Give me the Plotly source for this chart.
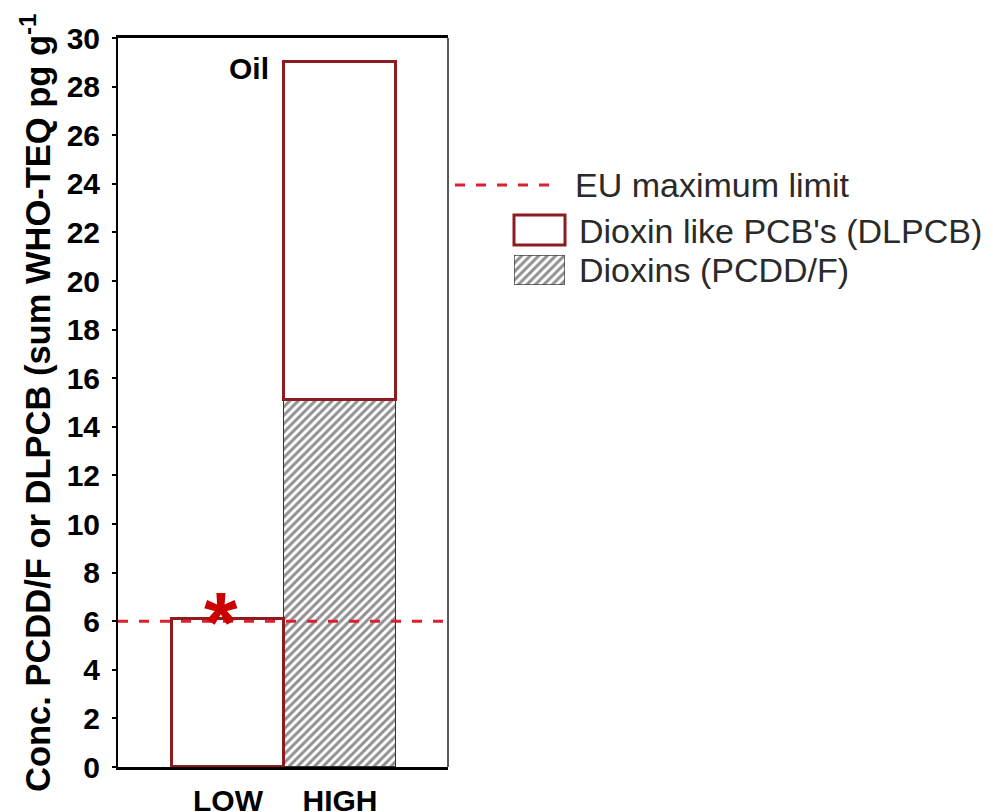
import plotly.graph_objects as go

# ---- data ----
categories = ["LOW", "HIGH"]
dioxins = [None, 15.1]          # PCDD/F (hatched)
dlpcb = [6.1, 13.9]             # dioxin-like PCBs (stacked on top)
eu_limit = 6.0
y_ticks = list(range(0, 31, 2))
legend_labels = ["EU maximum limit", "Dioxin like PCB's (DLPCB)", "Dioxins (PCDD/F)"]
y_title = "Conc. PCDD/F or DLPCB (sum WHO-TEQ pg g<sup>-1</sup>"

# ---- layout helpers (page pixel -> paper); page has an 8px body offset ----
OFF = 8
W, H = 993 - OFF, 812 - OFF
ML, MR, MT = 118 - OFF, 8, 38 - OFF
MB = H - (767 - OFF)
PW, PH = W - ML - MR, H - MT - MB
def xp(px): return (px - OFF - ML) / PW
def yp(py): return (H - MB - (py - OFF)) / PH

RED_EDGE = "#8E1B1E"
RED_DASH = "#DD1F2E"
FONT = "Liberation Sans, Arial, sans-serif"
HATCH = dict(shape="/", fgcolor="#222222", bgcolor="white", size=6, solidity=0.5)

fig = go.Figure()
fig.add_trace(go.Bar(
    x=categories, y=dioxins, name=legend_labels[2], showlegend=False,
    marker=dict(color="white", line=dict(color="#333333", width=1.5), pattern=HATCH),
))
fig.add_trace(go.Bar(
    x=categories, y=dlpcb, name=legend_labels[1], showlegend=False,
    marker=dict(color="white", line=dict(color=RED_EDGE, width=3)),
))

# legend swatch for the hatched series (drawn on its own small axes)
fig.add_trace(go.Scatter(
    x=[0, 1, 1, 0, 0], y=[0, 0, 1, 1, 0], xaxis="x2", yaxis="y2",
    mode="lines", fill="toself", showlegend=False, hoverinfo="skip",
    line=dict(color="#444444", width=1.5),
    fillcolor="white", fillpattern=HATCH,
))

shapes = [
    dict(type="line", xref="x domain", yref="y", x0=0, x1=1, y0=eu_limit, y1=eu_limit,
         line=dict(color=RED_DASH, width=3, dash="10px,11px"), layer="above"),
    dict(type="line", xref="paper", yref="paper", x0=xp(455), x1=xp(560), y0=yp(185), y1=yp(185),
         line=dict(color=RED_DASH, width=3, dash="10px,11px")),
    dict(type="rect", xref="paper", yref="paper", x0=xp(514), x1=xp(565), y0=yp(245), y1=yp(215),
         line=dict(color=RED_EDGE, width=3), fillcolor="white"),
    dict(type="line", xref="paper", yref="paper", x0=xp(448), x1=xp(448), y0=0, y1=1,
         line=dict(color="#222222", width=1.5)),
]

annotations = [
    dict(text=y_title, xref="paper", yref="paper", x=xp(35), y=yp(403), textangle=-90,
         showarrow=False, xanchor="center", yanchor="middle",
         font=dict(family=FONT, size=34.5, color="black", weight="bold")),
    dict(text="*", xref="x", yref="y", x=categories[0], y=dlpcb[0], xshift=-7, yshift=-3,
         showarrow=False, yanchor="middle", font=dict(family=FONT, size=86, color="#CC0000", weight="bold")),
    dict(text="Oil", xref="x", yref="y", x=0.5, y=dioxins[1] + dlpcb[1], xshift=-13, yshift=-6,
         showarrow=False, xanchor="right", yanchor="middle",
         font=dict(family=FONT, size=30, color="black", weight="bold")),
    dict(text=legend_labels[0], xref="paper", yref="paper", x=xp(573), y=yp(185),
         showarrow=False, xanchor="left", yanchor="middle", font=dict(family=FONT, size=34, color="#2a2a2a")),
    dict(text=legend_labels[1], xref="paper", yref="paper", x=xp(577), y=yp(231),
         showarrow=False, xanchor="left", yanchor="middle", font=dict(family=FONT, size=34, color="#2a2a2a")),
    dict(text=legend_labels[2], xref="paper", yref="paper", x=xp(577), y=yp(270),
         showarrow=False, xanchor="left", yanchor="middle", font=dict(family=FONT, size=34, color="#2a2a2a")),
]

fig.update_layout(
    width=W, height=H, margin=dict(l=ML, r=MR, t=MT, b=MB, autoexpand=False),
    paper_bgcolor="white", plot_bgcolor="white",
    barmode="stack", bargap=0,
    showlegend=False,
    font=dict(family=FONT, color="black"),
    xaxis=dict(domain=[0, xp(448)], range=[-0.982, 1.964], type="category",
               showline=True, linecolor="black", linewidth=2.5, mirror=True,
               ticks="", showgrid=False, zeroline=False,
               tickfont=dict(family=FONT, size=30, color="black", weight="bold"),
               ticklabelstandoff=5),
    yaxis=dict(domain=[0, 1], range=[0, 30], tickvals=y_ticks,
               showline=True, linecolor="black", linewidth=2, mirror=False,
               ticks="outside", ticklen=4, tickwidth=1.5, tickcolor="black",
               showgrid=False, zeroline=False,
               tickfont=dict(family=FONT, size=30, color="black", weight="bold"),
               ticklabelstandoff=6),
    xaxis2=dict(domain=[xp(514), xp(565)], range=[0, 1], visible=False, anchor="y2"),
    yaxis2=dict(domain=[yp(285), yp(255)], range=[0, 1], visible=False, anchor="x2"),
    shapes=shapes,
    annotations=annotations,
)

fig.write_html("out.html")
